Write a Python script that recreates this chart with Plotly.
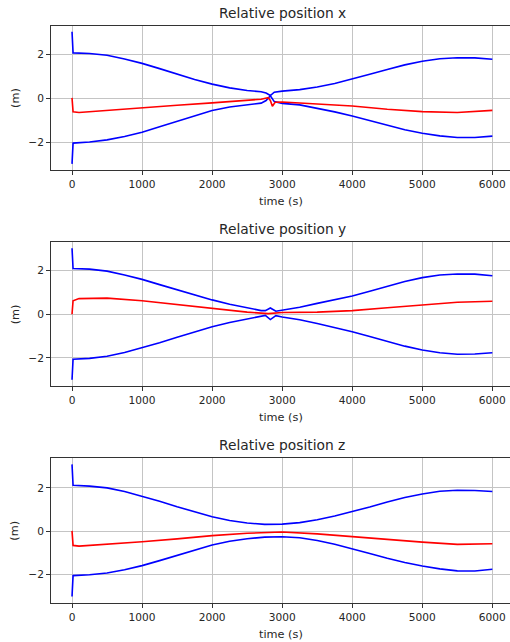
import plotly.graph_objects as go

# ---------------- data ----------------
titles = ["Relative position x", "Relative position y", "Relative position z"]

# subplot x
tx_env = [0, 15, 250, 500, 750, 1000, 1250, 1500, 1750, 2000, 2250, 2500, 2700, 2770, 2831,
          2887, 2950, 3000, 3250, 3500, 3750, 4000, 4250, 4500, 4750, 5000, 5250, 5500, 5750, 6000]
x_upper = [3.05, 2.08, 2.05, 1.97, 1.80, 1.60, 1.36, 1.10, 0.86, 0.65, 0.48, 0.36, 0.30, 0.24, 0.13,
           0.28, 0.31, 0.33, 0.40, 0.52, 0.68, 0.88, 1.10, 1.32, 1.53, 1.70, 1.81, 1.86, 1.85, 1.79]
x_lower = [-3.00, -2.05, -2.00, -1.90, -1.75, -1.55, -1.30, -1.05, -0.78, -0.56, -0.40, -0.29, -0.22, -0.10, 0.12,
           -0.15, -0.21, -0.23, -0.30, -0.45, -0.62, -0.81, -1.02, -1.24, -1.44, -1.60, -1.72, -1.79, -1.79, -1.73]
tx_mean = [0, 15, 100, 500, 1000, 1500, 2000, 2500, 2700, 2800, 2831, 2860, 2900, 3000, 3500,
           4000, 4500, 5000, 5500, 6000]
x_mean = [0.02, -0.62, -0.65, -0.55, -0.42, -0.32, -0.21, -0.10, -0.04, 0.03, -0.10, -0.36, -0.18, -0.17, -0.25,
          -0.35, -0.50, -0.61, -0.65, -0.55]

# subplot y
ty_env = [0, 15, 250, 500, 750, 1000, 1250, 1500, 1750, 2000, 2250, 2500, 2700, 2760, 2831,
          2910, 3000, 3250, 3500, 3750, 4000, 4250, 4500, 4750, 5000, 5250, 5500, 5750, 6000]
y_upper = [3.03, 2.10, 2.07, 1.98, 1.80, 1.60, 1.36, 1.12, 0.88, 0.66, 0.46, 0.28, 0.17, 0.17, 0.29,
           0.14, 0.18, 0.32, 0.50, 0.66, 0.84, 1.06, 1.28, 1.50, 1.68, 1.80, 1.85, 1.84, 1.77]
y_lower = [-3.00, -2.06, -2.02, -1.92, -1.75, -1.53, -1.30, -1.05, -0.80, -0.57, -0.38, -0.22, -0.10, -0.05, -0.24,
           -0.06, -0.12, -0.25, -0.42, -0.60, -0.80, -1.02, -1.24, -1.46, -1.64, -1.76, -1.83, -1.82, -1.76]
ty_mean = [0, 15, 100, 500, 1000, 1500, 2000, 2500, 2800, 3000, 3500, 4000, 4500, 5000, 5500, 6000]
y_mean = [0.00, 0.62, 0.72, 0.74, 0.62, 0.45, 0.25, 0.10, 0.03, 0.08, 0.10, 0.17, 0.30, 0.43, 0.55, 0.60]

# subplot z
tz_env = [0, 15, 250, 500, 750, 1000, 1250, 1500, 1750, 2000, 2250, 2500, 2750, 3000, 3250,
          3500, 3750, 4000, 4250, 4500, 4750, 5000, 5250, 5500, 5750, 6000]
z_upper = [3.08, 2.12, 2.08, 2.00, 1.83, 1.62, 1.38, 1.13, 0.89, 0.67, 0.50, 0.38, 0.32, 0.33, 0.40,
           0.53, 0.70, 0.90, 1.12, 1.35, 1.56, 1.72, 1.84, 1.89, 1.88, 1.83]
z_lower = [-3.00, -2.04, -2.00, -1.92, -1.77, -1.58, -1.35, -1.10, -0.85, -0.63, -0.46, -0.34, -0.27, -0.25, -0.30,
           -0.42, -0.60, -0.80, -1.02, -1.24, -1.44, -1.60, -1.73, -1.82, -1.83, -1.75]
tz_mean = [0, 15, 100, 500, 1000, 1500, 2000, 2500, 3000, 3500, 4000, 4500, 5000, 5500, 6000]
z_mean = [0.02, -0.65, -0.68, -0.60, -0.48, -0.35, -0.20, -0.09, -0.03, -0.12, -0.25, -0.38, -0.50, -0.60, -0.57]

x_ticks = [0, 1000, 2000, 3000, 4000, 5000, 6000]
x_ticktext = ["0", "1000", "2000", "3000", "4000", "5000", "6000"]
y_ticks = [-2, 0, 2]
y_ticktext = ["\u22122", "0", "2"]

panels = [
    (tx_env, x_upper, x_lower, tx_mean, x_mean, [-3.28, 3.31]),
    (ty_env, y_upper, y_lower, ty_mean, y_mean, [-3.30, 3.30]),
    (tz_env, z_upper, z_lower, tz_mean, z_mean, [-3.30, 3.36]),
]

# ---------------- layout ----------------
W, H = 510, 642
# pixel positions of each axes box (top, bottom)
boxes = [(26, 170), (242.3, 386.3), (458.3, 603)]
x_left_px = 51
font_family = "DejaVu Sans, Liberation Sans, sans-serif"
txt_col = "#262626"

fig = go.Figure()
annotations = []
layout_axes = {}

for i, (te, up, lo, tm, mean, yr) in enumerate(panels):
    n = i + 1
    xa = "x" if n == 1 else f"x{n}"
    ya = "y" if n == 1 else f"y{n}"
    for tt, vals, col in [(te, up, "#0000ff"), (te, lo, "#0000ff"), (tm, mean, "#ff0000")]:
        fig.add_trace(go.Scatter(x=tt, y=vals, mode="lines", xaxis=xa, yaxis=ya,
                                 line=dict(color=col, width=1.6), showlegend=False,
                                 hoverinfo="skip"))
    top, bot = boxes[i]
    common = dict(showline=True, mirror=True, linecolor="#333333", linewidth=1,
                  showgrid=True, gridcolor="#c4c4c4", gridwidth=1, zeroline=False,
                  ticks="outside", ticklen=4, tickcolor="#333333",
                  tickfont=dict(family=font_family, size=10.6, color=txt_col),
                  automargin=False)
    layout_axes["xaxis" if n == 1 else f"xaxis{n}"] = dict(
        domain=[x_left_px / W, 1.0], range=[-300, 6252], anchor=ya,
        tickmode="array", tickvals=x_ticks, ticktext=x_ticktext, **common)
    layout_axes["yaxis" if n == 1 else f"yaxis{n}"] = dict(
        domain=[(H - bot) / H, (H - top) / H], range=yr, anchor=xa,
        tickmode="array", tickvals=y_ticks, ticktext=y_ticktext, **common)

    cx = 282 / W
    annotations.append(dict(text=titles[i], x=cx, y=(H - (top - 13)) / H, xref="paper", yref="paper",
                            showarrow=False, xanchor="center", yanchor="middle",
                            font=dict(family=font_family, size=13.8, color=txt_col)))
    annotations.append(dict(text="time (s)", x=281 / W, y=(H - (bot + 31)) / H, xref="paper", yref="paper",
                            showarrow=False, xanchor="center", yanchor="middle",
                            font=dict(family=font_family, size=11.3, color=txt_col)))
    annotations.append(dict(text="(m)", x=15 / W, y=(H - (top + bot) / 2) / H, xref="paper", yref="paper",
                            showarrow=False, xanchor="center", yanchor="middle", textangle=-90,
                            font=dict(family=font_family, size=11.3, color=txt_col)))

fig.update_layout(width=W, height=H, margin=dict(l=0, r=0, t=0, b=0),
                  paper_bgcolor="white", plot_bgcolor="white",
                  annotations=annotations, **layout_axes)

fig.write_html("out.html")
